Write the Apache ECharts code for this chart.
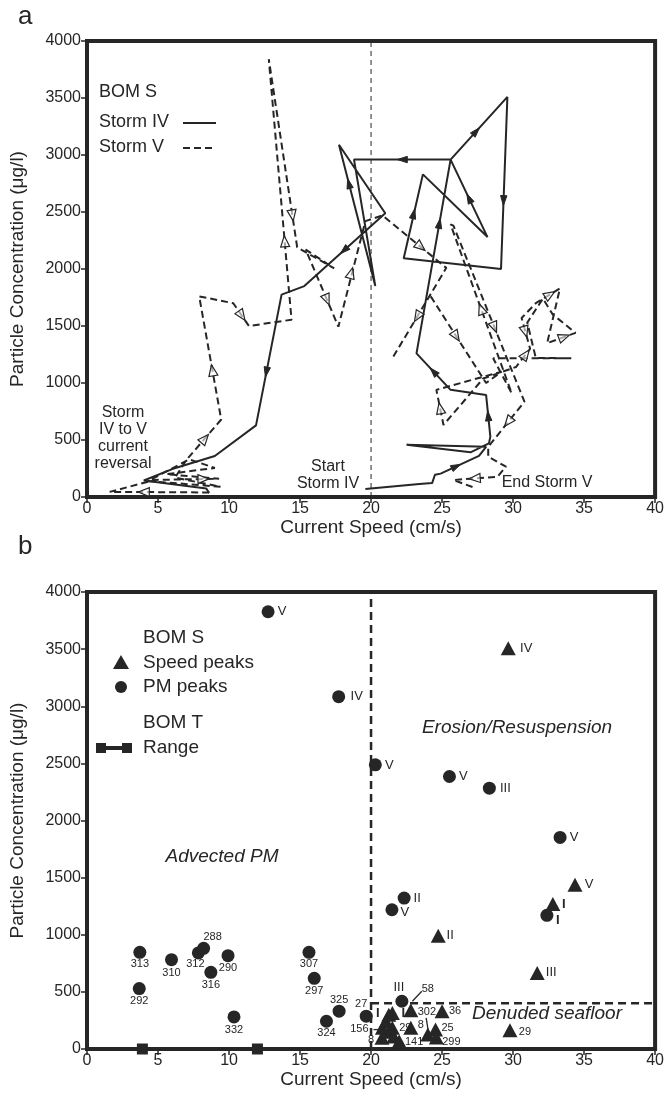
<!DOCTYPE html>
<html>
<head>
<meta charset="utf-8">
<script src="https://cdn.jsdelivr.net/npm/echarts@6/dist/echarts.min.js"></script>
<style>
html, body { margin: 0; padding: 0; background: #fff; }
#main { width: 667px; height: 1101px; }
</style>
</head>
<body>
<div id="main"></div>
<script>
// ---- panel a : hourly trajectories, [speed cm/s, conc ug/l]
var stormIV = [
	[19.6, 70], [23.4, 115], [24.3, 122], [24.5, 195], [24.9, 205], [27.6, 360], [28.1, 440],
	[22.5, 458], [27.0, 392], [28.3, 470], [28.4, 530], [28.1, 895], [25.6, 940], [23.2, 1260],
	[25.6, 2960], [29.6, 3510], [29.15, 2000], [22.3, 2095], [23.65, 2830], [28.2, 2280],
	[25.6, 2960], [18.8, 2960], [20.3, 1850], [17.74, 3090], [21.0, 2489], [15.3, 1850],
	[13.7, 1775], [11.9, 628], [9.0, 360], [6.0, 245], [4.0, 145], [8.4, 75], [8.6, 35]
];
var stormVa = [
	[8.6, 40], [1.6, 45], [4.8, 150], [9.3, 160], [5.6, 200], [9.0, 255], [7.2, 330], [4.3, 140],
	[9.4, 90], [6.2, 170], [7.0, 325], [9.45, 680], [7.9, 1760], [10.3, 1700], [11.4, 1500],
	[14.4, 1555], [12.8, 3840], [14.8, 2190], [17.4, 2006], [15.4, 2170], [17.7, 1494],
	[19.6, 2420], [20.8, 2470], [25.3, 2010], [21.5, 1217]
];
var stormVb = [
	[24.2, 1760], [28.1, 1000], [29.2, 1100], [24.6, 940], [25.1, 632], [27.9, 1040], [30.2, 1140],
	[31.2, 1300], [30.6, 1570], [31.6, 1700], [33.3, 1830], [32.4, 1350], [34.4, 1440], [32.8, 1600],
	[32.1, 1740], [31.0, 1530], [31.6, 1220], [34.1, 1217], [28.6, 1217], [29.9, 910], [25.6, 2390],
	[25.8, 2380], [30.8, 836], [28.25, 440], [28.25, 354], [29.5, 266], [28.9, 178], [25.8, 149],
	[27.4, 76]
];
// arrow heads: [x, y, towardX, towardY]
var ivArrows = [
	[26.0, 268, 27.6, 360], [28.25, 712, 28.1, 895], [24.4, 1100, 23.2, 1260], [24.81, 2400, 25.6, 2960],
	[27.4, 3207, 29.6, 3510], [29.33, 2600, 29.15, 2000], [23.0, 2485, 23.65, 2830], [26.9, 2620, 25.6, 2960],
	[22.2, 2960, 18.8, 2960], [18.44, 2750, 17.74, 3090], [18.1, 2164, 15.3, 1850], [12.63, 1096, 11.9, 628]
];
var vArrows = [
	[4.0, 43, 1.6, 45], [8.2, 158, 9.3, 160], [8.3, 513, 9.45, 680], [8.83, 1111, 7.9, 1760],
	[10.9, 1591, 11.4, 1500], [13.92, 2243, 12.8, 3840], [14.46, 2470, 14.8, 2190], [16.9, 1730, 17.7, 1494],
	[18.6, 1965, 19.6, 2420], [23.5, 2194, 25.3, 2010], [23.26, 1582, 21.5, 1217], [26.0, 1409, 28.1, 1000],
	[24.86, 778, 24.6, 940], [27.75, 1650, 25.6, 2390], [28.69, 1488, 30.8, 836], [29.65, 658, 28.25, 440],
	[27.3, 163, 25.8, 149], [30.85, 1450, 31.2, 1300], [30.9, 1250, 31.2, 1300], [32.6, 1776, 33.3, 1830],
	[33.6, 1404, 34.4, 1440]
];

// ---- panel b : peaks
var pmSpeed = [12.75, 17.72, 20.3, 25.52, 28.33, 33.31, 22.33, 21.47, 32.38, 22.17,
	3.72, 3.68, 5.95, 7.84, 8.21, 9.93, 8.72, 10.35, 15.63, 16.0, 17.75, 16.86, 19.66];
var pmConc = [3827, 3084, 2487, 2385, 2283, 1852, 1321, 1219, 1170, 418,
	846, 529, 782, 841, 881, 817, 671, 281, 846, 619, 331, 243, 287];
var pmLabel = ['V', 'IV', 'V', 'V', 'III', 'V', 'II', 'V', 'I', 'III',
	'313', '292', '310', '312', '288', '290', '316', '332', '307', '297', '325', '324', '27'];

var pkSpeed = [29.66, 34.36, 32.8, 24.73, 31.7, 29.78, 22.8, 25.0, 22.8, 24.0, 24.54, 24.6,
	21.98, 20.77, 20.8, 21.25, 21.5, 21.05, 21.5, 21.24, 21.6];
var pkConc = [3507, 1438, 1269, 992, 666, 165, 339, 331, 185, 127, 170, 100,
	68, 98, 185, 300, 315, 243, 185, 150, 110];
var pkLabel = ['IV', 'V', 'I', 'II', 'III', '29', '58', '36', '8', '302', '25', '299',
	'141', '8', '156', 'I', 'I', '', '29', '', ''];

var bomTRange = [3.9, 12.0];
var leaders = [[22.91, 418, 23.57, 505], [23.88, 273, 24.03, 156], [20.17, 170, 20.72, 170]];

// label placement (pixels, from marker centre)
var pmLabelOff = [[14, 0], [18, 0], [14, 1], [14, 0], [16, 0], [14, 0], [13, 0], [13, 3], [11, 5], [-3, -14],
	[0, 12], [0, 12], [0, 13], [-3, 11], [9, -11], [0, 12], [0, 13], [0, 13], [0, 12], [0, 13], [0, -11], [0, 12], [-5, -12]];
var pkLabelOff = [[18, 0], [14, 0], [11, 0], [12, 0], [14, 0], [15, 2], [17, -21], [13, 0], [10, -3], [-1, -23], [12, -2], [15, 4],
	[15, 1], [-11, 2], [-23, 1], [-11, -1], [11, 0], [0, 0], [13, 0], [0, 0], [0, 0]];

var FONT = '"Liberation Sans", Arial, sans-serif';
var INK = '#262626';

var chart = echarts.init(document.getElementById('main'));

function plain(v) { return String(v); }

function xAxes(g) {
	return [{
		gridIndex: g, type: 'value', min: 0, max: 40, interval: 5, position: 'bottom',
		axisLine: { show: false },
		axisTick: { show: true, inside: false, length: 4, lineStyle: { color: INK, width: 1.5 } },
		axisLabel: { fontSize: 16, color: INK, fontFamily: FONT, margin: 4, formatter: plain },
		splitLine: { show: false },
		name: 'Current Speed (cm/s)', nameLocation: 'middle', nameGap: 14,
		nameTextStyle: { fontSize: 19, color: INK, fontFamily: FONT }
	}, {
		gridIndex: g, type: 'value', min: 0, max: 40, interval: 5, position: 'top',
		axisLine: { show: false },
		axisTick: { show: true, inside: true, length: 6, lineStyle: { color: INK, width: 1.5 } },
		axisLabel: { show: false }, splitLine: { show: false }
	}];
}
function yAxes(g) {
	return [{
		gridIndex: g, type: 'value', min: 0, max: 4000, interval: 500, position: 'left',
		axisLine: { show: false },
		axisTick: { show: true, inside: false, length: 4, lineStyle: { color: INK, width: 1.5 } },
		axisLabel: { fontSize: 16, color: INK, fontFamily: FONT, margin: 6, formatter: plain },
		splitLine: { show: false },
		name: 'Particle Concentration (\u03bcg/l)', nameLocation: 'middle', nameGap: 60,
		nameTextStyle: { fontSize: 19, color: INK, fontFamily: FONT }
	}, {
		gridIndex: g, type: 'value', min: 0, max: 4000, interval: 500, position: 'right',
		axisLine: { show: false },
		axisTick: { show: true, inside: true, length: 6, lineStyle: { color: INK, width: 1.5 } },
		axisLabel: { show: false }, splitLine: { show: false }
	}];
}

function arrowRender(hollow) {
	return function(params, api) {
		var p = api.coord([api.value(0), api.value(1)]);
		var q = api.coord([api.value(2), api.value(3)]);
		var a = Math.atan2(q[1] - p[1], q[0] - p[0]);
		var ux = Math.cos(a), uy = Math.sin(a);
		var L = hollow ? 11 : 10, W = hollow ? 4.5 : 3.2;
		var tip = [p[0] + ux * L / 2, p[1] + uy * L / 2];
		var b1 = [p[0] - ux * L / 2 - uy * W, p[1] - uy * L / 2 + ux * W];
		var b2 = [p[0] - ux * L / 2 + uy * W, p[1] - uy * L / 2 - ux * W];
		return {
			type: 'polygon',
			shape: { points: [tip, b1, b2] },
			style: { fill: hollow ? 'rgba(255,255,255,0.6)' : INK, stroke: INK, lineWidth: hollow ? 1.2 : 1 }
		};
	};
}

function pathLine(data, dashed) {
	return {
		type: 'line', xAxisIndex: 0, yAxisIndex: 0, data: data, symbol: 'none', silent: true,
		lineStyle: { color: INK, width: 2, type: dashed ? [7, 4] : 'solid' }, z: 3
	};
}

function labelled(xs, ys, names, offs) {
	var out = [];
	for (var i = 0; i < xs.length; i++) {
		var isNum = /^\d/.test(names[i]);
		out.push({
			value: [xs[i], ys[i]], name: names[i],
			label: {
				show: names[i] !== '', position: 'inside', offset: offs[i], formatter: '{b}',
				color: INK, fontFamily: FONT, fontSize: isNum ? 11 : 13,
				fontWeight: names[i] === 'I' ? 'bold' : 'normal'
			}
		});
	}
	return out;
}

function txt(x, y, s, size, opt) {
	opt = opt || {};
	return {
		type: 'text', x: x, y: y, z: 50,
		style: {
			text: s, fill: INK, align: opt.align || 'left', verticalAlign: 'middle',
			font: (opt.italic ? 'italic ' : '') + size + 'px ' + FONT, lineHeight: opt.lh || size
		}
	};
}

var option = {
	animation: false,
	backgroundColor: '#fff',
	grid: [
		{ left: 85, top: 41, width: 571, height: 456, show: true, borderWidth: 4, borderColor: INK },
		{ left: 85, top: 592, width: 571, height: 457, show: true, borderWidth: 4, borderColor: INK }
	],
	xAxis: xAxes(0).concat(xAxes(1)),
	yAxis: yAxes(0).concat(yAxes(1)),
	series: [
		// panel a
		{
			type: 'line', xAxisIndex: 0, yAxisIndex: 0, data: [[20, 0], [20, 4000]], symbol: 'none', silent: true,
			lineStyle: { color: INK, width: 1, type: [5, 4] }, z: 2
		},
		pathLine(stormIV, false),
		pathLine(stormVa, true),
		pathLine(stormVb, true),
		{ type: 'custom', xAxisIndex: 0, yAxisIndex: 0, data: ivArrows, renderItem: arrowRender(false), z: 5, silent: true },
		{ type: 'custom', xAxisIndex: 0, yAxisIndex: 0, data: vArrows, renderItem: arrowRender(true), z: 5, silent: true },
		// panel b
		{
			type: 'line', xAxisIndex: 2, yAxisIndex: 2, data: [[20, 0], [20, 4000]], symbol: 'none', silent: true,
			lineStyle: { color: INK, width: 2.5, type: [8, 5] }, z: 2
		},
		{
			type: 'line', xAxisIndex: 2, yAxisIndex: 2, data: [[20, 400], [40, 400]], symbol: 'none', silent: true,
			lineStyle: { color: INK, width: 2.5, type: [8, 5] }, z: 2
		},
		{
			type: 'custom', xAxisIndex: 2, yAxisIndex: 2, data: leaders, silent: true, z: 3,
			renderItem: function(params, api) {
				var p = api.coord([api.value(0), api.value(1)]);
				var q = api.coord([api.value(2), api.value(3)]);
				return { type: 'line', shape: { x1: p[0], y1: p[1], x2: q[0], y2: q[1] }, style: { stroke: INK, lineWidth: 1.3 } };
			}
		},
		{
			type: 'line', xAxisIndex: 2, yAxisIndex: 2, data: [[bomTRange[0], 0], [bomTRange[1], 0]],
			symbol: 'rect', symbolSize: 11, showSymbol: true, silent: true,
			itemStyle: { color: INK, opacity: 1 }, lineStyle: { color: INK, width: 4 }, z: 6
		},
		{
			type: 'scatter', xAxisIndex: 2, yAxisIndex: 2, symbol: 'circle', symbolSize: 13,
			itemStyle: { color: INK, opacity: 1 }, data: labelled(pmSpeed, pmConc, pmLabel, pmLabelOff), z: 4, silent: true
		},
		{
			type: 'scatter', xAxisIndex: 2, yAxisIndex: 2, symbol: 'triangle', symbolSize: [15, 14],
			itemStyle: { color: INK, opacity: 1 }, data: labelled(pkSpeed, pkConc, pkLabel, pkLabelOff), z: 4, silent: true
		}
	],
	graphic: [
		txt(18, 17, 'a', 26),
		txt(18, 547, 'b', 26),
		// panel a legend
		txt(99, 92, 'BOM S', 18),
		txt(99, 122, 'Storm IV', 18),
		txt(99, 147, 'Storm V', 18),
		{ type: 'line', z: 50, shape: { x1: 183, y1: 123, x2: 216, y2: 123 }, style: { stroke: INK, lineWidth: 2 } },
		{ type: 'line', z: 50, shape: { x1: 183, y1: 148, x2: 216, y2: 148 }, style: { stroke: INK, lineWidth: 2, lineDash: [7, 4] } },
		txt(123, 438, 'Storm\nIV to V\ncurrent\nreversal', 16, { align: 'center', lh: 17 }),
		txt(328, 475, 'Start\nStorm IV', 16, { align: 'center', lh: 17 }),
		txt(547, 483, 'End Storm V', 16, { align: 'center' }),
		// panel b legend
		txt(143, 638, 'BOM S', 19),
		txt(143, 663, 'Speed peaks', 19),
		txt(143, 687, 'PM peaks', 19),
		txt(143, 723, 'BOM T', 19),
		txt(143, 748, 'Range', 19),
		{ type: 'polygon', z: 50, shape: { points: [[121, 655], [113, 669], [129, 669]] }, style: { fill: INK } },
		{ type: 'circle', z: 50, shape: { cx: 121, cy: 687, r: 6 }, style: { fill: INK } },
		{ type: 'line', z: 50, shape: { x1: 100, y1: 748, x2: 128, y2: 748 }, style: { stroke: INK, lineWidth: 4 } },
		{ type: 'rect', z: 50, shape: { x: 96, y: 743, width: 10, height: 10 }, style: { fill: INK } },
		{ type: 'rect', z: 50, shape: { x: 122, y: 743, width: 10, height: 10 }, style: { fill: INK } },
		txt(517, 728, 'Erosion/Resuspension', 19, { align: 'center', italic: true }),
		txt(222, 857, 'Advected PM', 19, { align: 'center', italic: true }),
		txt(547, 1014, 'Denuded seafloor', 19, { align: 'center', italic: true })
	]
};

chart.setOption(option);
</script>
</body>
</html>
